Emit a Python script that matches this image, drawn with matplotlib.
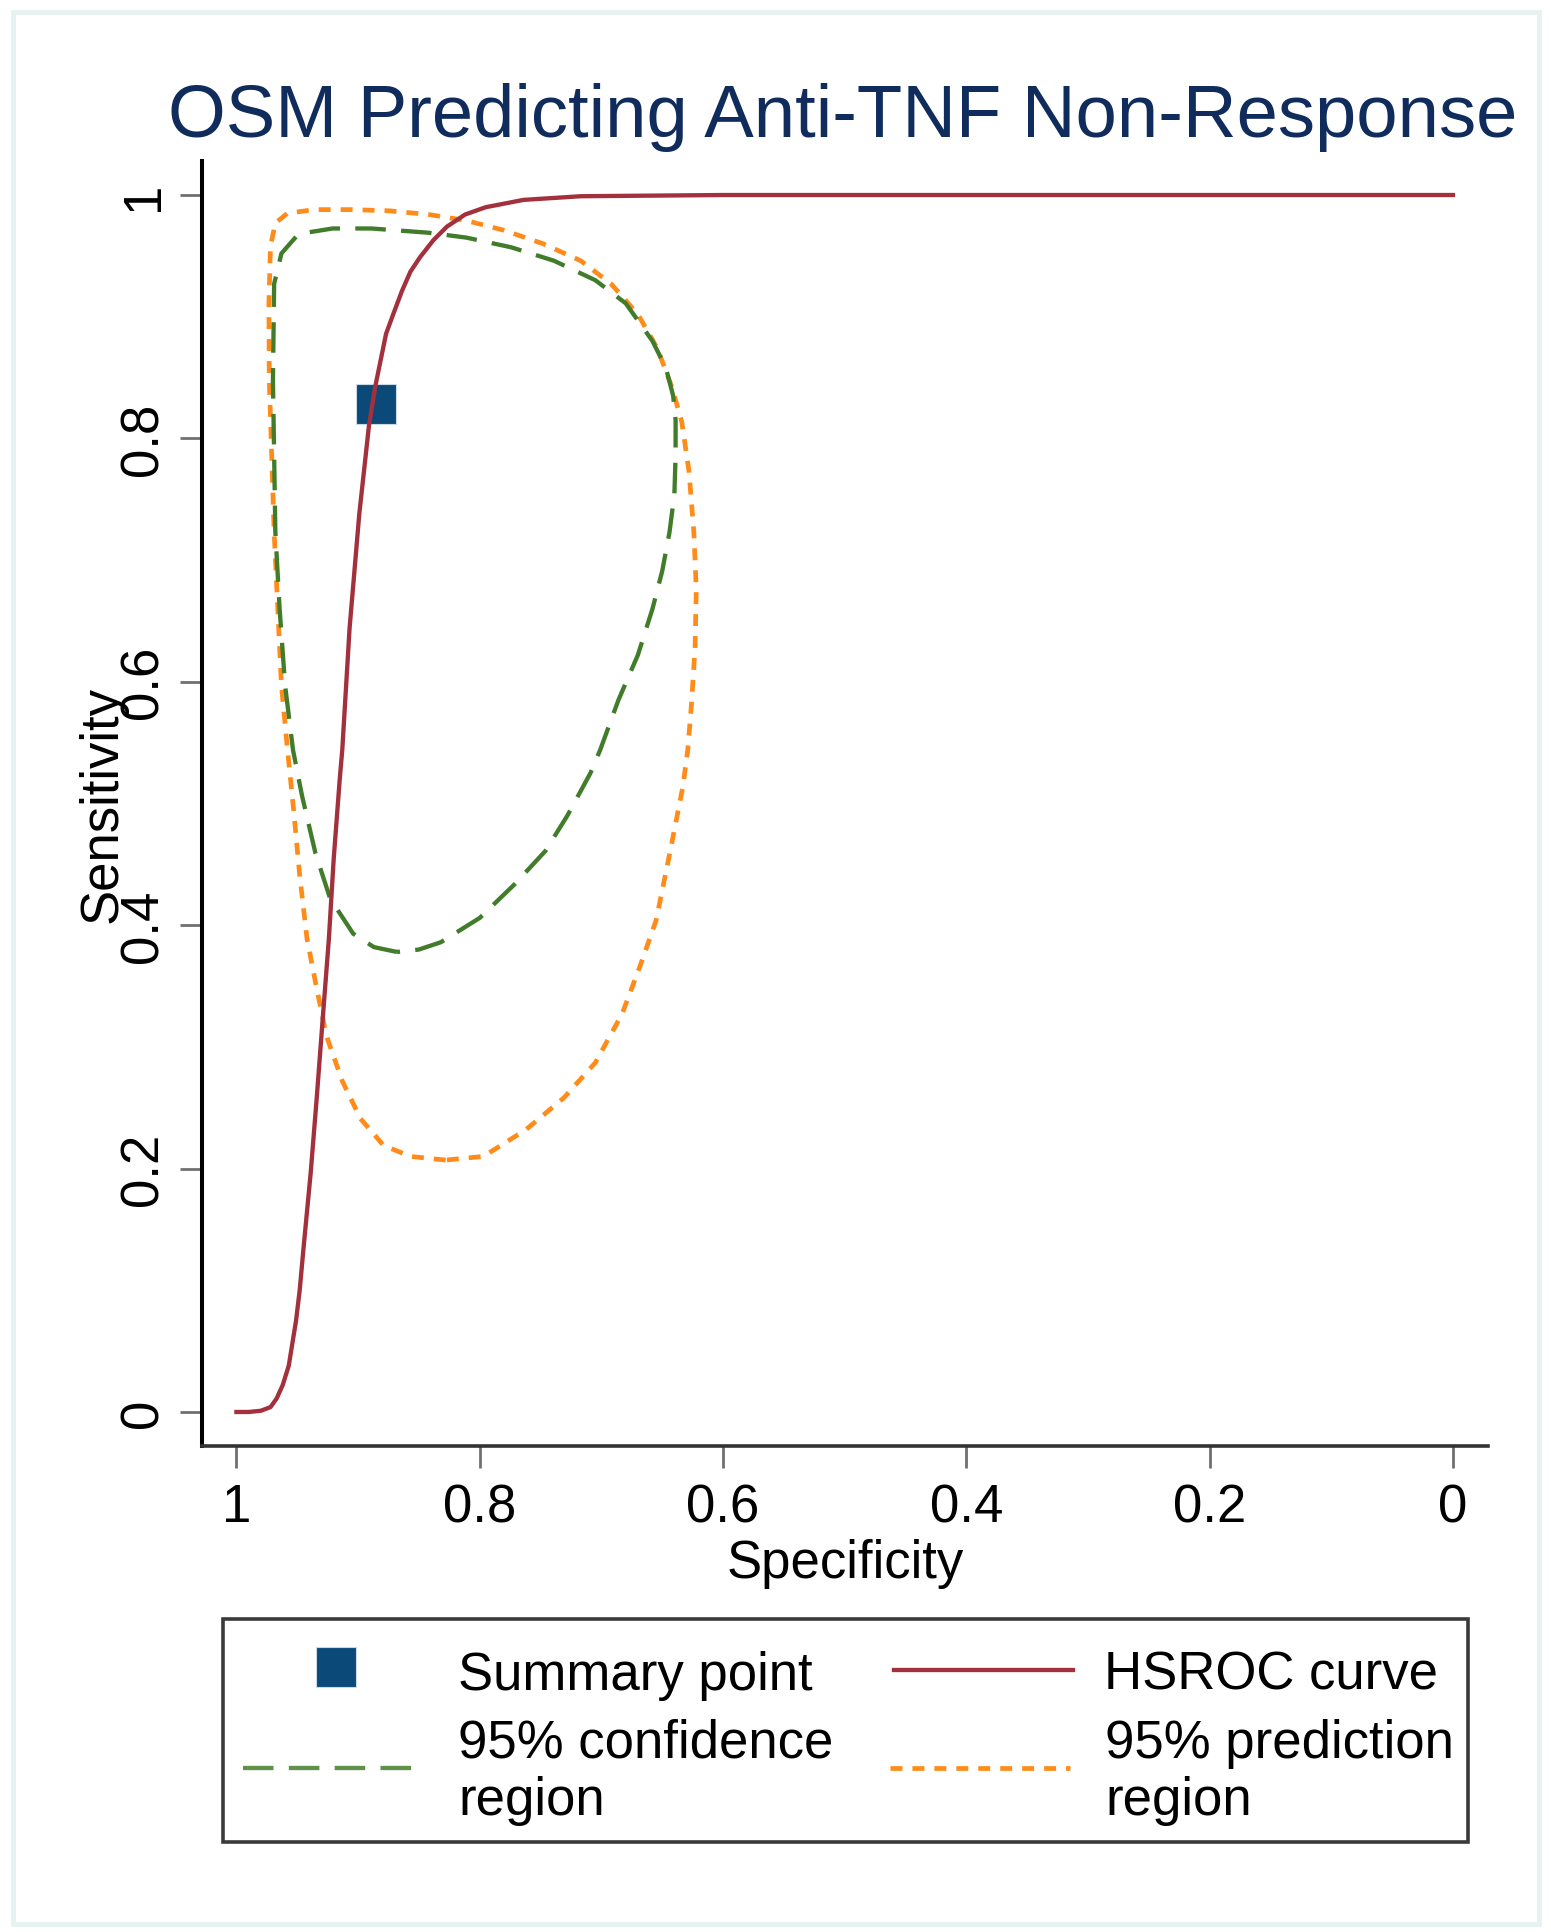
import matplotlib
matplotlib.use("Agg")
import matplotlib.pyplot as plt
from matplotlib.lines import Line2D
from matplotlib.patches import Rectangle

plt.rcParams['font.family'] = ['Liberation Sans', 'DejaVu Sans']
plt.rcParams['lines.scale_dashes'] = False

# ---------------- data ----------------
title = "OSM Predicting Anti-TNF Non-Response"
x_label = "Specificity"
y_label = "Sensitivity"
tick_values = [1.0, 0.8, 0.6, 0.4, 0.2, 0.0]
tick_labels = ["1", "0.8", "0.6", "0.4", "0.2", "0"]

summary_spec = [0.885]
summary_sens = [0.828]

hsroc_spec = [1.000, 0.990, 0.980, 0.972, 0.967, 0.962, 0.957, 0.951, 0.948, 0.945,
              0.939, 0.934, 0.929, 0.924, 0.920, 0.915, 0.913, 0.907, 0.899, 0.891,
              0.886, 0.877, 0.870, 0.864, 0.857, 0.849, 0.838, 0.827, 0.812, 0.795,
              0.764, 0.717, 0.600, 0.000]
hsroc_sens = [0.000, 0.000, 0.001, 0.004, 0.011, 0.022, 0.038, 0.075, 0.100, 0.133,
              0.196, 0.258, 0.324, 0.389, 0.455, 0.521, 0.544, 0.644, 0.738, 0.811,
              0.842, 0.886, 0.905, 0.921, 0.937, 0.949, 0.963, 0.974, 0.984, 0.990,
              0.996, 0.999, 1.000, 1.000]

conf_spec = [0.868, 0.887, 0.904, 0.923, 0.935, 0.946, 0.9535, 0.960, 0.9645, 0.968, 0.969,
             0.970, 0.969, 0.963, 0.949, 0.921, 0.889, 0.842, 0.811, 0.774, 0.739,
             0.705, 0.680, 0.658, 0.647, 0.641, 0.639, 0.639, 0.640, 0.644, 0.650, 0.658,
             0.670, 0.686, 0.701, 0.709, 0.728, 0.746, 0.772, 0.800, 0.832, 0.850, 0.868]
conf_sens = [0.378, 0.382, 0.393, 0.422, 0.459, 0.506, 0.544, 0.597, 0.660, 0.723, 0.786,
             0.848, 0.927, 0.952, 0.968, 0.9725, 0.9725, 0.969, 0.965, 0.957, 0.946,
             0.930, 0.911, 0.880, 0.858, 0.835, 0.815, 0.786, 0.754, 0.723, 0.691, 0.660,
             0.622, 0.585, 0.544, 0.525, 0.490, 0.461, 0.433, 0.406, 0.386, 0.380, 0.378]

pred_spec = [0.828, 0.857, 0.879, 0.898, 0.913, 0.926, 0.935, 0.942, 0.948, 0.953,
             0.958, 0.963, 0.966, 0.969, 0.971, 0.973, 0.9733, 0.972, 0.968, 0.958,
             0.936, 0.905, 0.874, 0.842, 0.811, 0.780, 0.748, 0.717, 0.692, 0.670,
             0.654, 0.642, 0.634, 0.628, 0.624, 0.622, 0.623, 0.626, 0.629, 0.633,
             0.643, 0.655, 0.668, 0.683, 0.705, 0.731, 0.762, 0.797, 0.828]
pred_sens = [0.207, 0.210, 0.219, 0.241, 0.272, 0.309, 0.353, 0.389, 0.441, 0.495,
             0.544, 0.597, 0.660, 0.723, 0.786, 0.848, 0.911, 0.958, 0.977, 0.985,
             0.988, 0.988, 0.987, 0.984, 0.979, 0.971, 0.960, 0.946, 0.927, 0.902,
             0.874, 0.842, 0.814, 0.773, 0.723, 0.676, 0.628, 0.581, 0.544, 0.514,
             0.463, 0.404, 0.367, 0.327, 0.287, 0.258, 0.232, 0.210, 0.207]

legend_labels = ["Summary point", "HSROC curve", "95% confidence\nregion", "95% prediction\nregion"]

# ---------------- styles ----------------
C_TITLE = '#102c5c'
C_POINT = '#0b4a78'
C_RED = '#a3303d'
C_GREEN = '#407c2a'
C_ORANGE = '#ff8c1a'
FS = 38
W, H = 1551, 1933

def fx(px):
    return px / W

def fy(py):
    return 1 - py / H

fig = plt.figure(figsize=(W / 100, H / 100), dpi=100)
fig.patch.set_facecolor('white')

# outer light frame
fig.patches.append(Rectangle((fx(12.5), fy(1925)), fx(1539) - fx(12.5), fy(12.5) - fy(1925),
                             transform=fig.transFigure, fill=False,
                             edgecolor='#e6f2f2', linewidth=3.5, zorder=0))

ax = fig.add_axes([202 / W, 1 - 1446.7 / H, (1488 - 202) / W, (1446.7 - 161.7) / H])
ax.set_xlim(1.0283, -0.0288)
ax.set_ylim(-0.0277, 1.0282)

dash_green = (0, (22, 11))
dash_orange = (0, (8.6, 7.2))

ax.plot(pred_spec, pred_sens, color=C_ORANGE, lw=3.4, linestyle=dash_orange, zorder=2,
        dash_joinstyle='round')
ax.plot(conf_spec, conf_sens, color=C_GREEN, lw=3.1, linestyle=dash_green, zorder=3,
        dash_joinstyle='round')
ax.plot(hsroc_spec, hsroc_sens, color=C_RED, lw=3.1, zorder=4, solid_joinstyle='round')
ax.plot(summary_spec, summary_sens, linestyle='none', marker='s', markersize=29.5,
        color=C_POINT, markeredgecolor='#c9d9e6', markeredgewidth=0.8, zorder=3.5)

ax.set_xticks(tick_values)
ax.set_xticklabels(tick_labels)
ax.set_yticks(tick_values)
ax.set_yticklabels(tick_labels)

for s in ['top', 'right']:
    ax.spines[s].set_visible(False)
ax.spines['left'].set_linewidth(2.9)
ax.spines['left'].set_color('black')
ax.spines['bottom'].set_linewidth(2.6)
ax.spines['bottom'].set_color('#333333')

ax.tick_params(axis='both', length=15.8, width=2.0, color='#707070', labelsize=FS,
               labelcolor='black')
ax.tick_params(axis='x', pad=10.5)
ax.tick_params(axis='y', pad=8, labelrotation=90)
for lab in ax.get_yticklabels():
    lab.set_verticalalignment('center')

ax.set_ylabel(y_label, fontsize=FS)
ax.yaxis.set_label_coords(-0.0575, 0.5)

# x label and title
fig.text(fx(845), fy(1578), x_label, fontsize=FS, ha='center', va='baseline')
fig.text(fx(843), fy(137), title, fontsize=53.5, color=C_TITLE, ha='center', va='baseline')

# ---------------- legend (drawn by hand) ----------------
fig.patches.append(Rectangle((fx(223), fy(1843)), fx(1468) - fx(223), fy(1620) - fy(1843),
                             transform=fig.transFigure, facecolor='white',
                             edgecolor='#3a3a3a', linewidth=2.6, zorder=1))

fig.lines.append(Line2D([fx(336)], [fy(1668)], marker='s', markersize=29.5, color=C_POINT,
                        markeredgecolor='#c9d9e6', markeredgewidth=0.8, linestyle='none',
                        transform=fig.transFigure))
fig.lines.append(Line2D([fx(894), fx(1073)], [fy(1671), fy(1671)], color=C_RED, lw=3.1,
                        transform=fig.transFigure))
fig.lines.append(Line2D([fx(243), fx(420)], [fy(1769), fy(1769)], color='#5f9248', lw=3.1,
                        linestyle=dash_green, transform=fig.transFigure))
fig.lines.append(Line2D([fx(890), fx(1070)], [fy(1769), fy(1769)], color=C_ORANGE, lw=3.4,
                        linestyle=dash_orange, transform=fig.transFigure))

legend_pos = [(458, 1690), (1104, 1690), (458, 1758), (1105, 1758)]
for lab, (px, py) in zip(legend_labels, legend_pos):
    for i, line in enumerate(lab.split("\n")):
        fig.text(fx(px), fy(py + 57 * i), line, fontsize=FS, ha='left', va='baseline')

fig.savefig("out.png", dpi=100, facecolor='white')
